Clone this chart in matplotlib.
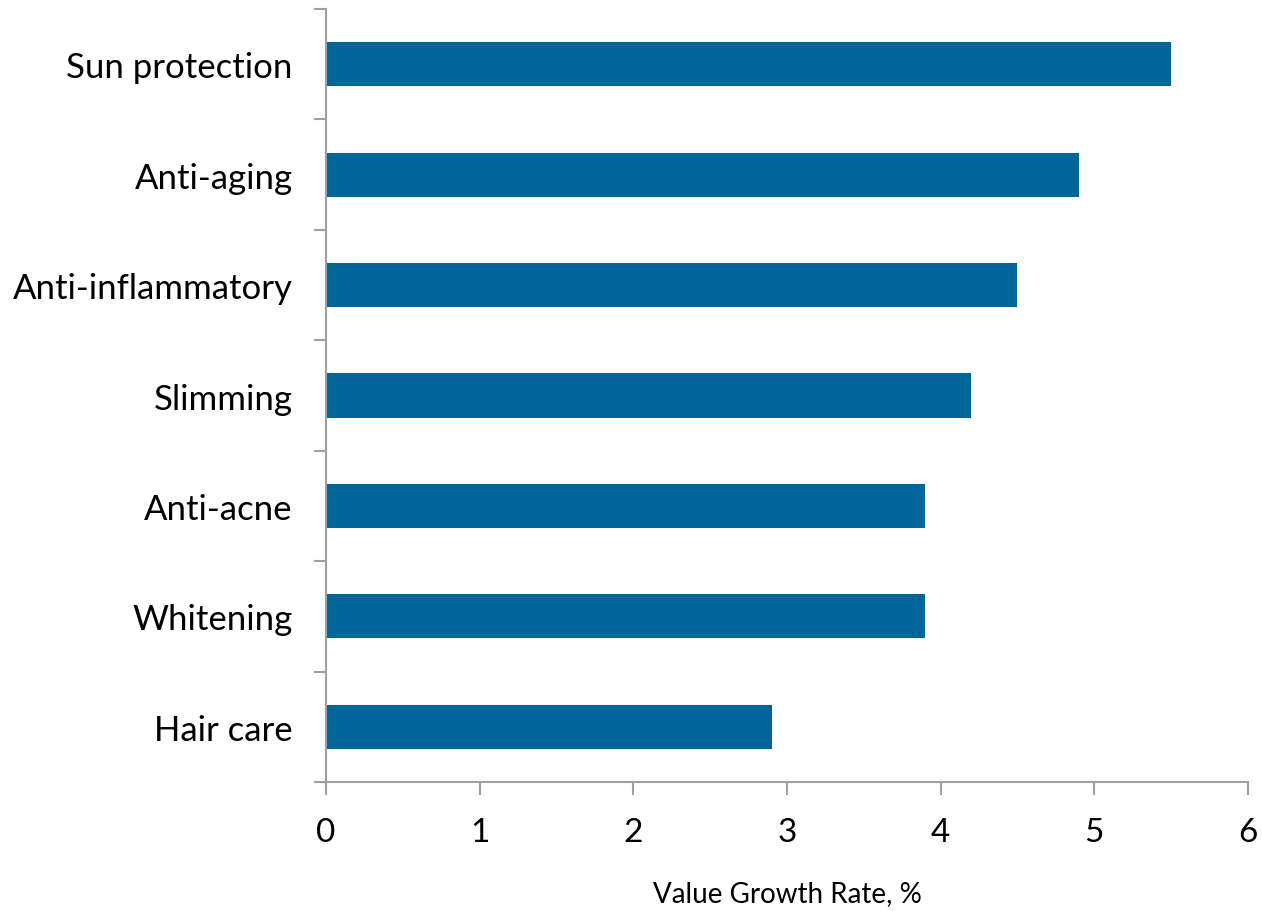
import matplotlib.pyplot as plt
import numpy as np

categories = ["Sun protection", "Anti-aging", "Anti-inflammatory", "Slimming",
              "Anti-acne", "Whitening", "Hair care"]
growth = [5.5, 4.9, 4.5, 4.2, 3.9, 3.9, 2.9]

plt.rcParams['font.family'] = ['Lato', 'DejaVu Sans']

fig = plt.figure(figsize=(12.62, 9.12), dpi=100)
ax = fig.add_axes([0.2583, 0.1414, 0.7306, 0.8476])

y = np.arange(len(categories))[::-1]
ax.barh(y, growth, height=0.4, color="#006699")

ax.set_xlim(0, 6)
ax.set_ylim(-0.5, len(categories) - 0.5)
ax.set_xticks(range(7))
ax.set_yticks(y)
ax.set_yticklabels(categories)
ax.set_yticks(np.arange(-0.5, len(categories), 1), minor=True)

grey = "#a0a0a0"
for s in ["top", "right"]:
    ax.spines[s].set_visible(False)
for s in ["left", "bottom"]:
    ax.spines[s].set_color(grey)
    ax.spines[s].set_linewidth(1.5)

ax.tick_params(axis="y", which="major", length=0, pad=24, labelsize=25)
ax.tick_params(axis="y", which="minor", length=9, width=1.5, color=grey)
ax.tick_params(axis="x", length=9, width=1.5, color=grey, pad=16, labelsize=24)

ax.set_xlabel("Value Growth Rate, %", fontsize=20, labelpad=24)

fig.savefig("out.png", dpi=100)
